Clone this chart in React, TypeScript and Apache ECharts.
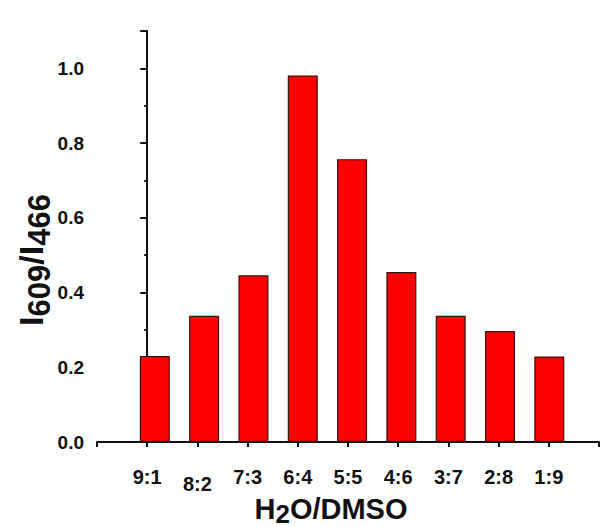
import React, { useEffect, useRef } from "react";
import * as echarts from "echarts";

const categories = ["9:1", "8:2", "7:3", "6:4", "5:5", "4:6", "3:7", "2:8", "1:9"];
const ratioValues = [0.23, 0.338, 0.446, 0.981, 0.757, 0.455, 0.338, 0.297, 0.229];
const yTicks = [0, 0.2, 0.4, 0.6, 0.8, 1.0];

const FONT = "'Liberation Sans', Arial, sans-serif";

export default function App() {
  const ref = useRef<HTMLDivElement>(null);
  useEffect(() => {
    if (!ref.current) return;
    const chart = echarts.init(ref.current, null, { renderer: "svg" });
    chart.setOption({
      animation: false,
      backgroundColor: "#ffffff",
      grid: { left: 97, right: 1, top: 31, bottom: 85, containLabel: false },
      xAxis: [
        {
          type: "value",
          min: -1,
          max: 9,
          interval: 1,
          axisLine: { show: true, onZero: false, lineStyle: { color: "#111", width: 2 } },
          axisTick: { show: true, inside: false, length: 5, lineStyle: { color: "#111", width: 2 } },
          splitLine: { show: false },
          axisLabel: {
            show: true,
            margin: 25,
            fontFamily: FONT,
            fontWeight: "bold",
            fontSize: 20,
            color: "#111",
            showMinLabel: true,
            showMaxLabel: true,
            formatter: (v: number) => {
              const c = categories[Math.round(v)];
              if (c === undefined) return "";
              return c === "8:2" ? "{low|" + c + "}" : c;
            },
            rich: {
              low: { fontFamily: FONT, fontWeight: "bold", fontSize: 20, color: "#111", padding: [7, 0, 0, 0] },
            },
          },
        },
        {
          type: "value",
          min: -1.173,
          max: 9.008,
          show: false,
        },
      ],
      yAxis: {
        type: "value",
        min: 0,
        max: 1.1,
        interval: 0.2,
        axisLine: { show: true, lineStyle: { color: "#111", width: 2 } },
        axisTick: { show: true, inside: false, length: 7, lineStyle: { color: "#111", width: 2 } },
        minorTick: { show: true, splitNumber: 2, length: 3, lineStyle: { color: "#111", width: 2 } },
        splitLine: { show: false },
        axisLabel: {
          margin: 13,
          fontFamily: FONT,
          fontWeight: "bold",
          fontSize: 19,
          color: "#111",
          showMaxLabel: false,
          formatter: (v: number) => (yTicks.some((t) => Math.abs(t - v) < 1e-6) ? v.toFixed(1) : ""),
        },
      },
      graphic: [
        {
          type: "text",
          x: 31,
          y: 260,
          rotation: Math.PI / 2,
          style: {
            text: "{m|I}{s|609}{m|/I}{s|466}",
            align: "center",
            verticalAlign: "middle",
            fill: "#111",
            rich: {
              m: { fontFamily: FONT, fontWeight: "bold", fontSize: 34, lineHeight: 36, fill: "#111" },
              s: { fontFamily: FONT, fontWeight: "bold", fontSize: 31, lineHeight: 36, padding: [16, 0, 0, 0], fill: "#111" },
            },
          },
        },
        {
          type: "text",
          x: 331,
          y: 509,
          style: {
            text: "{m|H}{s|2}{m|O/DMSO}",
            align: "center",
            verticalAlign: "middle",
            fill: "#111",
            rich: {
              m: { fontFamily: FONT, fontWeight: "bold", fontSize: 29, lineHeight: 30, fill: "#111" },
              s: { fontFamily: FONT, fontWeight: "bold", fontSize: 26, lineHeight: 30, padding: [10, 0, 0, 0], fill: "#111" },
            },
          },
        },
      ],
      series: [
        {
          type: "bar",
          xAxisIndex: 1,
          barWidth: 30,
          data: ratioValues.map((v, i) => [i, v]),
          itemStyle: { color: "#ff0000", borderColor: "#3a1010", borderWidth: 1.2 },
        },
      ],
    });
    return () => chart.dispose();
  }, []);
  return (
    <div
      ref={ref}
      style={{ position: "fixed", left: 0, top: 0, width: 602, height: 527, background: "#fff" }}
    />
  );
}
